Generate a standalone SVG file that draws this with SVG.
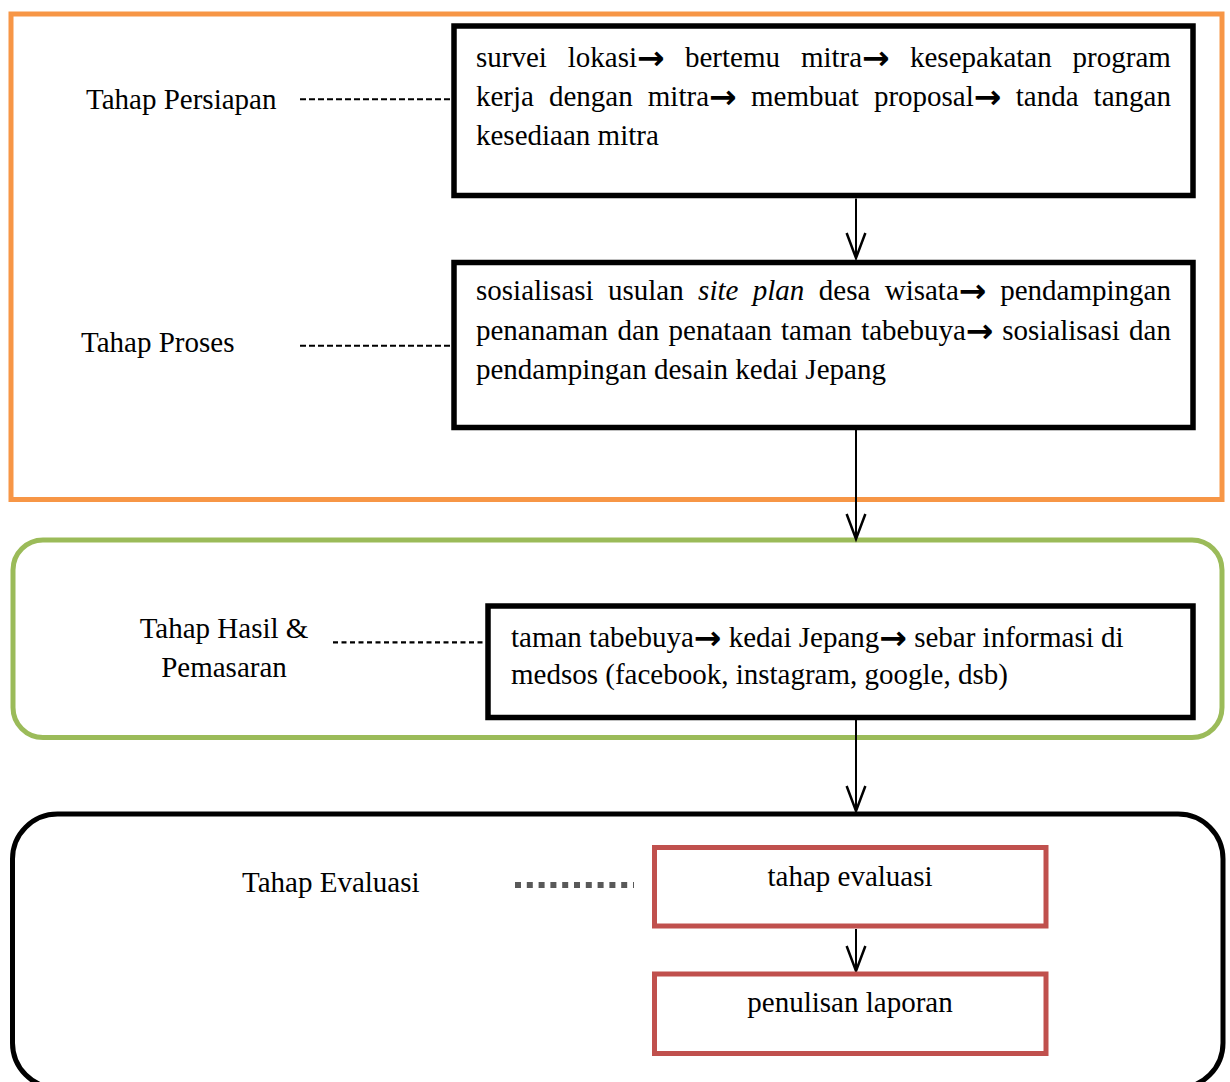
<svg xmlns="http://www.w3.org/2000/svg" width="1230" height="1082" viewBox="0 0 1230 1082">
<style>
text{font-family:"Liberation Serif","Times New Roman",serif;font-size:29px;fill:#000}
.ar{font-family:"DejaVu Sans",sans-serif;font-weight:bold;font-size:33px;baseline-shift:-1.5px}
.it{font-style:italic}
.mid{text-anchor:middle}
.box{fill:#fff;stroke:#000;stroke-width:5.5}
.red{fill:#fff;stroke:#C0504D;stroke-width:5}
.conn{stroke:#000;stroke-width:2;fill:none}
.dash{stroke:#000;stroke-width:2;stroke-dasharray:6 3;fill:none}
</style>
<defs>
<marker id="vhead" markerUnits="userSpaceOnUse" markerWidth="30" markerHeight="30" refX="0" refY="0" viewBox="-22 -10 24 20" orient="auto" overflow="visible">
<path d="M-20,-7.5 L0,0 L-20,7.5" fill="none" stroke="#000" stroke-width="2"/>
</marker>
</defs>
<rect width="1230" height="1082" fill="#fff"/>

<g id="group-persiapan-proses">
<rect x="11" y="14" width="1211" height="485.5" fill="none" stroke="#F79646" stroke-width="5"/>
</g>
<g id="group-hasil">
<rect x="13" y="540" width="1209" height="197.5" rx="30" ry="30" fill="none" stroke="#9BBB59" stroke-width="5"/>
</g>
<g id="group-evaluasi">
<rect x="12.5" y="814" width="1210.5" height="274" rx="45" ry="45" fill="none" stroke="#000" stroke-width="5"/>
</g>

<g id="label-persiapan"><text x="86" y="108.5">Tahap Persiapan</text></g>
<g id="label-proses"><text x="81" y="352">Tahap Proses</text></g>
<g id="label-hasil"><text class="mid" x="224" y="638">Tahap Hasil &amp;</text><text class="mid" x="224" y="677">Pemasaran</text></g>
<g id="label-evaluasi"><text x="242" y="892">Tahap Evaluasi</text></g>

<g id="connectors">
<line class="dash" x1="300" y1="99.3" x2="451" y2="99.3"/>
<line class="dash" x1="300" y1="345.7" x2="451" y2="345.7"/>
<line x1="333" y1="642.3" x2="486" y2="642.3" stroke="#000" stroke-width="2.2" stroke-dasharray="5 3.5"/>
<line x1="515" y1="885" x2="634" y2="885" stroke="#595959" stroke-width="6" stroke-dasharray="6 5.8"/>
<line class="conn" x1="856" y1="198.5" x2="856" y2="258" marker-end="url(#vhead)"/>
<line class="conn" x1="856" y1="430" x2="856" y2="539" marker-end="url(#vhead)"/>
<line class="conn" x1="856" y1="720" x2="856" y2="811" marker-end="url(#vhead)"/>
<line class="conn" x1="856" y1="929" x2="856" y2="971" marker-end="url(#vhead)"/>
</g>

<g id="node-persiapan">
<rect class="box" x="454" y="26" width="739" height="169.5"/>
<text y="67"><tspan x="476">survei</tspan><tspan x="567.8">lokasi<tspan class="ar">→</tspan></tspan><tspan x="685">bertemu</tspan><tspan x="800.9">mitra<tspan class="ar">→</tspan></tspan><tspan x="910">kesepakatan</tspan><tspan x="1072.6">program</tspan></text>
<text y="106"><tspan x="476">kerja</tspan><tspan x="549">dengan</tspan><tspan x="647.8">mitra<tspan class="ar">→</tspan></tspan><tspan x="751">membuat</tspan><tspan x="873.9">proposal<tspan class="ar">→</tspan></tspan><tspan x="1015.8">tanda</tspan><tspan x="1093.6">tangan</tspan></text>
<text x="476" y="145">kesediaan mitra</text>
</g>

<g id="node-proses">
<rect class="box" x="454" y="262.5" width="739" height="165"/>
<text y="300"><tspan x="476">sosialisasi</tspan><tspan x="608">usulan</tspan><tspan class="it" x="698.1">site</tspan><tspan class="it" x="752.8">plan</tspan><tspan x="818.8">desa</tspan><tspan x="884.7">wisata<tspan class="ar">→</tspan></tspan><tspan x="1000.2">pendampingan</tspan></text>
<text y="340"><tspan x="476">penanaman</tspan><tspan x="617.4">dan</tspan><tspan x="668.6">penataan</tspan><tspan x="781">taman</tspan><tspan x="861.2">tabebuya<tspan class="ar">→</tspan></tspan><tspan x="1002.2">sosialisasi</tspan><tspan x="1129.1">dan</tspan></text>
<text x="476" y="379">pendampingan desain kedai Jepang</text>
</g>

<g id="node-hasil">
<rect class="box" x="488" y="606" width="705" height="111.5"/>
<text x="511" y="646.5">taman tabebuya<tspan class="ar">→</tspan> kedai Jepang<tspan class="ar">→</tspan> sebar informasi di</text>
<text x="511" y="684">medsos (facebook, instagram, google, dsb)</text>
</g>

<g id="node-tahap-evaluasi">
<rect class="red" x="654.5" y="847.5" width="391.5" height="78.5"/>
<text class="mid" x="850" y="886">tahap evaluasi</text>
</g>

<g id="node-penulisan-laporan">
<rect class="red" x="654.5" y="974" width="391.5" height="79.5"/>
<text class="mid" x="850" y="1012">penulisan laporan</text>
</g>
</svg>
